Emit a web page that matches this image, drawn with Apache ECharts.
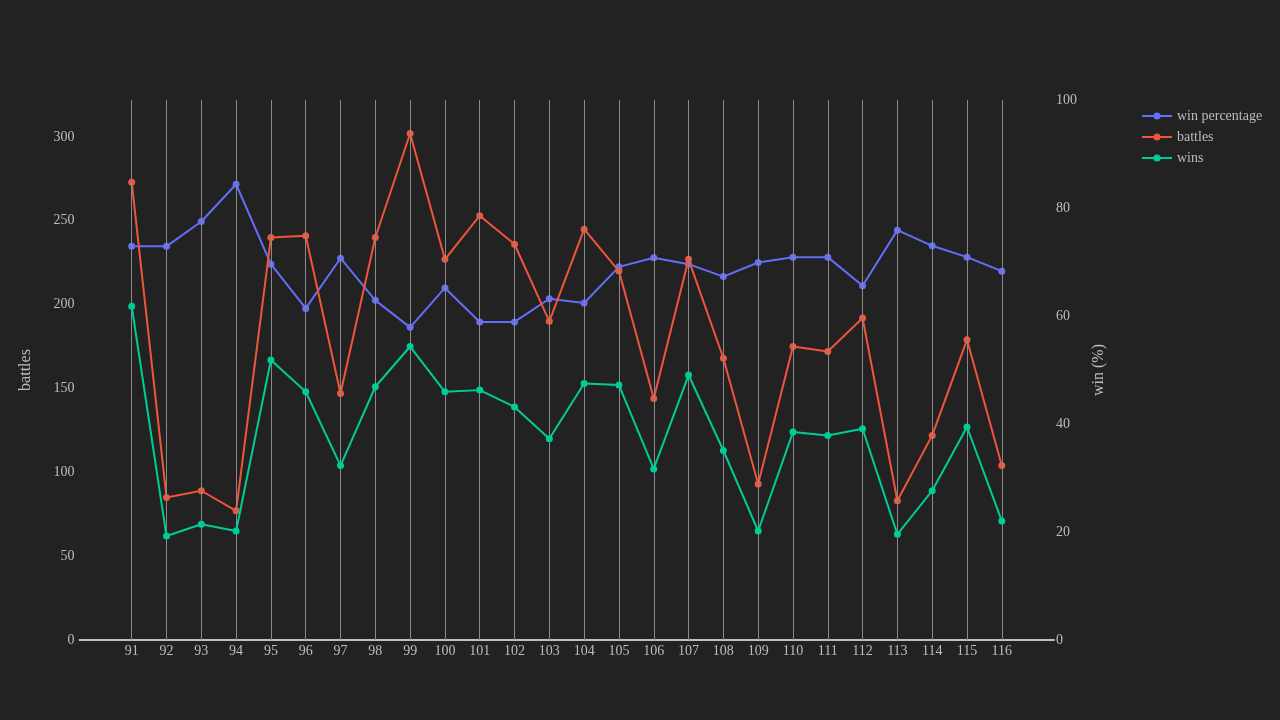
<!DOCTYPE html>
<html>
<head>
<meta charset="utf-8">
<script src="https://cdn.jsdelivr.net/npm/echarts@6/dist/echarts.min.js"></script>
<style>
html,body{margin:0;padding:0;background:#222222;}
#chart{width:1280px;height:720px;}
</style>
</head>
<body>
<div id="chart"></div>
<script>
const seasons = [91,92,93,94,95,96,97,98,99,100,101,102,103,104,105,106,107,108,109,110,111,112,113,114,115,116];
const battles = [273,85,89,77,240,241,147,240,302,227,253,236,190,245,220,144,227,168,93,175,172,192,83,122,179,104];
const wins = [199,62,69,65,167,148,104,151,175,148,149,139,120,153,152,102,158,113,65,124,122,126,63,89,127,71];
const winPct = [72.9,72.9,77.5,84.4,69.6,61.4,70.7,62.9,57.9,65.2,58.9,58.9,63.2,62.4,69.1,70.8,69.6,67.3,69.9,70.9,70.9,65.6,75.9,73.0,70.9,68.3];
const leftTicks = [0,50,100,150,200,250,300];
const rightTicks = [0,20,40,60,80,100];

const FONT = '"Liberation Serif", "DejaVu Serif", serif';
const TXT = '#bdbdbd';

const pair = (arr) => seasons.map((s, i) => [s, arr[i]]);

const chart = echarts.init(document.getElementById('chart'));
chart.setOption({
  backgroundColor: '#222222',
  animation: false,
  textStyle: { fontFamily: FONT, color: TXT },
  grid: { left: 79.5, right: 226, top: 100, bottom: 80, containLabel: false },
  legend: {
    orient: 'vertical',
    left: 1136,
    top: 104,
    padding: 5,
    itemWidth: 30,
    itemHeight: 9,
    itemGap: 7,
    textStyle: { fontFamily: FONT, fontSize: 14, color: TXT },
    data: ['win percentage', 'battles', 'wins']
  },
  xAxis: {
    type: 'value',
    min: 89.5,
    max: 117.5,
    axisLine: { show: true, lineStyle: { color: '#c0c0c0', width: 2 } },
    axisTick: { show: false, customValues: seasons },
    axisLabel: { customValues: seasons, color: TXT, fontFamily: FONT, fontSize: 14, margin: 4 },
    splitLine: { show: false }
  },
  yAxis: [
    {
      type: 'value',
      min: 0,
      max: 322,
      interval: 50,
      name: 'battles',
      nameLocation: 'middle',
      nameGap: 46,
      nameRotate: 90,
      nameTextStyle: { fontFamily: FONT, fontSize: 16, color: TXT },
      axisLine: { show: false },
      axisTick: { show: false },
      axisLabel: { customValues: leftTicks, color: TXT, fontFamily: FONT, fontSize: 14, margin: 5 },
      splitLine: { show: false }
    },
    {
      type: 'value',
      min: 0,
      max: 100,
      interval: 20,
      position: 'right',
      name: 'win (%)',
      nameLocation: 'middle',
      nameGap: 37,
      nameRotate: 90,
      nameTextStyle: { fontFamily: FONT, fontSize: 16, color: TXT },
      axisLine: { show: false },
      axisTick: { show: false },
      axisLabel: { customValues: rightTicks, color: TXT, fontFamily: FONT, fontSize: 14, margin: 2 },
      splitLine: { show: false }
    }
  ],
  series: [
    {
      name: 'gridlines',
      type: 'line',
      data: [],
      z: 1,
      silent: true,
      markLine: {
        silent: true,
        symbol: 'none',
        label: { show: false },
        lineStyle: { color: '#8a8a8a', width: 1, type: 'solid' },
        emphasis: { disabled: true },
        data: seasons.map(s => ({ xAxis: s }))
      }
    },
    {
      name: 'win percentage',
      type: 'line',
      yAxisIndex: 1,
      data: pair(winPct),
      z: 3,
      symbol: 'circle',
      symbolSize: 7,
      color: '#636efa',
      lineStyle: { width: 2 }
    },
    {
      name: 'battles',
      type: 'line',
      yAxisIndex: 0,
      data: pair(battles),
      z: 4,
      symbol: 'circle',
      symbolSize: 7,
      color: '#ef553b',
      lineStyle: { width: 2 }
    },
    {
      name: 'wins',
      type: 'line',
      yAxisIndex: 0,
      data: pair(wins),
      z: 5,
      symbol: 'circle',
      symbolSize: 7,
      color: '#00cc96',
      lineStyle: { width: 2 }
    }
  ]
});
</script>
</body>
</html>
